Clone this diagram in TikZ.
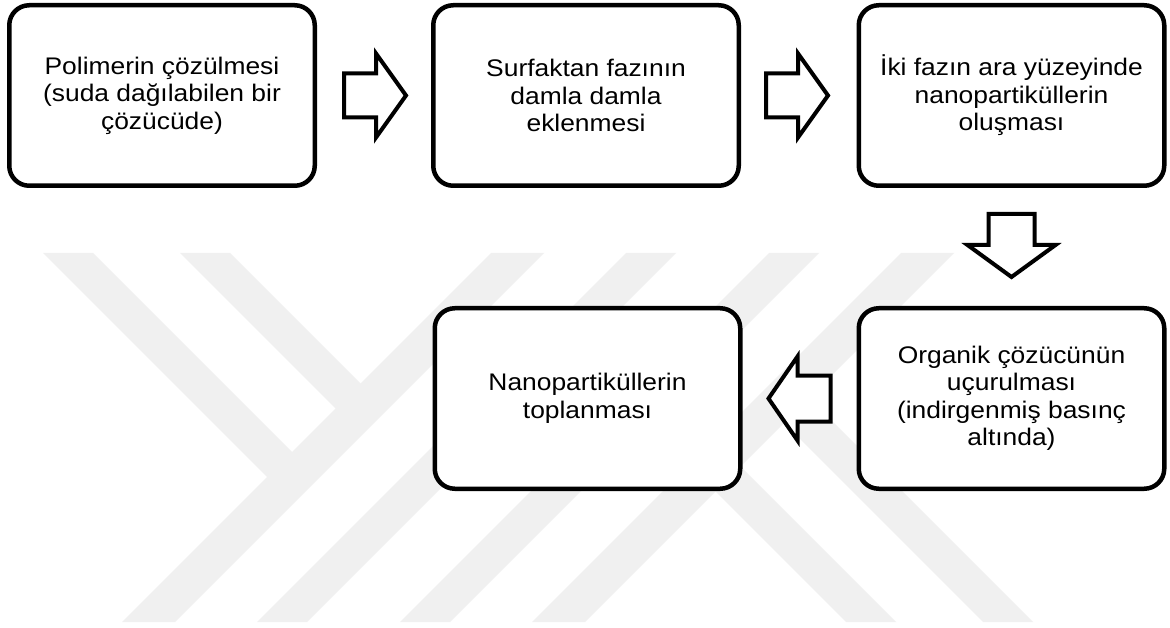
\documentclass[tikz,border=0pt]{standalone}
\usepackage{fontspec}
\setmainfont[FakeStretch=1.1]{Liberation Sans}
\usetikzlibrary{calc}
\definecolor{wm}{RGB}{240,240,240}
\tikzset{
  stepbox/.style={draw=black, line width=4.5pt, rounded corners=20pt, fill=white,
    minimum width=305.5pt, minimum height=180.5pt, align=center, inner sep=0pt,
    font=\fontsize{24}{27.5}\selectfont},
  blockarr/.style={draw=black, line width=4pt, fill=white, line join=miter},
  wmark/.style={fill=wm, draw=none},
  rarr/.pic={\path[blockarr] (0,-22) -- (32,-22) -- (32,-42) -- (62,0) -- (32,42) -- (32,22) -- (0,22) -- cycle;},
  larr/.pic={\path[blockarr] (0,-23) -- (-33,-23) -- (-33,-42) -- (-62,0) -- (-33,42) -- (-33,23) -- (0,23) -- cycle;},
  darr/.pic={\path[blockarr] (-23,0) -- (23,0) -- (23,31) -- (44,31) -- (0,63) -- (-44,31) -- (-23,31) -- cycle;}
}
\begin{document}
\begin{tikzpicture}[x=1pt, y=-1pt]
\useasboundingbox (0,0) rectangle (1170,628);
\fill[white] (0,0) rectangle (1170,628);
% watermark
\fill[wmark] (43,253) -- (93,253) -- (305,465) -- (280,490) -- cycle;
\fill[wmark] (180,253) -- (230,253) -- (373.75,396.75) -- (348.75,421.75) -- cycle;
\fill[wmark] (122,622) -- (175,622) -- (544,253) -- (491,253) -- cycle;
\fill[wmark] (257,622) -- (307,622) -- (676,253) -- (626,253) -- cycle;
\fill[wmark] (1033,622) -- (983,622) -- (771,410) -- (796,385) -- cycle;
\fill[wmark] (896,622) -- (846,622) -- (702.25,478.25) -- (727.25,453.25) -- cycle;
\fill[wmark] (954,253) -- (901,253) -- (532,622) -- (585,622) -- cycle;
\fill[wmark] (819,253) -- (769,253) -- (400,622) -- (450,622) -- cycle;
% boxes
\node[stepbox] (b1) at (162,95.5) {Polimerin çözülmesi\\(suda dağılabilen bir\\çözücüde)};
\node[stepbox] (b2) at (586,95.5) {Surfaktan fazının\\damla damla\\eklenmesi};
\node[stepbox] (b3) at (1011.5,95.5) {İki fazın ara yüzeyinde\\nanopartiküllerin\\oluşması};
\node[stepbox] (b4) at (1011.5,398.5) {Organik çözücünün\\uçurulması\\(indirgenmiş basınç\\altında)};
\node[stepbox] (b5) at (587.5,398.5) {Nanopartiküllerin\\toplanması};
% arrows
\pic at ($(b1.east)+(27,0)$) {rarr};
\pic at ($(b2.east)+(25,0)$) {rarr};
\pic at ($(b3.south)+(0,26)$) {darr};
\pic at ($(b4.west)+(-26,0)$) {larr};
\end{tikzpicture}
\end{document}
